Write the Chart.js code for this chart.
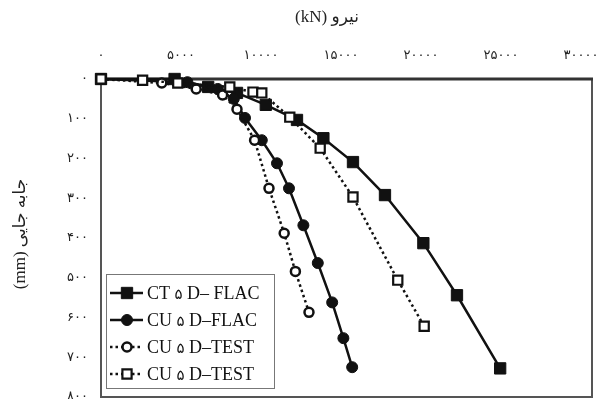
<!DOCTYPE html>
<html>
<head>
<meta charset="utf-8">
<script src="https://cdn.jsdelivr.net/npm/chart.js@4.4.0/dist/chart.umd.min.js"></script>
<style>
  html, body { margin: 0; padding: 0; background: #fff; overflow: hidden; }
  #wrap { width: 601px; height: 399px; }
</style>
</head>
<body>
<div id="wrap"><canvas id="c" width="601" height="399"></canvas></div>
<script>
// Load (kN) vs. displacement (mm) for the four pile cases
const forceCtFlac = [0, 4600, 6700, 8500, 10300, 12250, 13900, 15750, 17750, 20150, 22250, 24950];
const dispCtFlac  = [0, 0, 20, 35, 65, 103, 149, 209, 292, 413, 544, 728];

const forceCuFlac = [0, 5400, 7300, 8300, 9000, 10050, 11000, 11750, 12650, 13550, 14450, 15150, 15700];
const dispCuFlac  = [0, 8, 25, 50, 98, 154, 212, 275, 368, 463, 562, 652, 725];

const forceCuTest = [0, 3800, 5950, 7600, 8500, 9600, 10500, 11450, 12150, 13000];
const dispCuTest  = [0, 10, 25, 40, 76, 154, 275, 388, 484, 587];

const forceCtTest = [0, 2600, 4800, 8050, 9500, 10050, 11800, 13700, 15750, 18550, 20200];
const dispCtTest  = [0, 3, 10, 20, 33, 35, 96, 174, 297, 506, 622];

const seriesNames = ['CT ۵ D– FLAC', 'CU ۵ D–FLAC', 'CU ۵ D–TEST', 'CU ۵ D–TEST'];
const forceTicks = [0, 5000, 10000, 15000, 20000, 25000, 30000];
const dispTicks  = [0, 100, 200, 300, 400, 500, 600, 700, 800];

const xTitle = '(kN) نیرو';
const yTitle = '(mm) جابه جایی';

const faDigits = '۰۱۲۳۴۵۶۷۸۹';
const toFa = n => String(n).replace(/\d/g, d => faDigits[d]);
const pairs = (xs, ys) => xs.map((x, i) => ({ x, y: ys[i] }));

const ink = '#111';
const dotted = [2.5, 3];
const PLOT = { left: 101, top: 79, right: 592, bottom: 397 };

const datasets = [
  { label: seriesNames[0], data: pairs(forceCtFlac, dispCtFlac), order: 3,
    borderColor: ink, borderWidth: 2.5, pointStyle: 'rect', pointRadius: 8,
    pointBackgroundColor: ink, pointBorderColor: ink, pointBorderWidth: 1 },
  { label: seriesNames[1], data: pairs(forceCuFlac, dispCuFlac), order: 2,
    borderColor: ink, borderWidth: 2.5, pointStyle: 'circle', pointRadius: 5.5,
    pointBackgroundColor: ink, pointBorderColor: ink, pointBorderWidth: 1 },
  { label: seriesNames[2], data: pairs(forceCuTest, dispCuTest), order: 1,
    borderColor: ink, borderWidth: 2.5, borderDash: dotted, pointStyle: 'circle', pointRadius: 4.5,
    pointBackgroundColor: '#fff', pointBorderColor: ink, pointBorderWidth: 2.5 },
  { label: seriesNames[3], data: pairs(forceCtTest, dispCtTest), order: 0,
    borderColor: ink, borderWidth: 2.5, borderDash: dotted, pointStyle: 'rect', pointRadius: 6.5,
    pointBackgroundColor: '#fff', pointBorderColor: ink, pointBorderWidth: 2.2 }
].map(d => Object.assign({ showLine: true, fill: false, tension: 0, clip: false,
  borderCapStyle: 'butt', pointHoverRadius: d.pointRadius }, d));

// fix the plot box to a set rectangle once the automatic layout has run
const pinPlot = {
  id: 'pinPlot',
  afterLayout(chart) {
    const a = chart.chartArea;
    a.left = PLOT.left; a.top = PLOT.top; a.right = PLOT.right; a.bottom = PLOT.bottom;
    a.width = PLOT.right - PLOT.left; a.height = PLOT.bottom - PLOT.top;
    const { x, y } = chart.scales;
    x.left = PLOT.left; x.right = PLOT.right; x.width = a.width;
    x.top = 0; x.bottom = PLOT.top; x.height = PLOT.top;
    y.top = PLOT.top; y.bottom = PLOT.bottom; y.height = a.height;
    y.left = 0; y.right = PLOT.left; y.width = PLOT.left;
    x.configure(); y.configure();
  }
};

// frame around the plot area, drawn under the series
const framePlugin = {
  id: 'frame',
  beforeDatasetsDraw(chart) {
    const { ctx, chartArea: a } = chart;
    ctx.save();
    ctx.strokeStyle = '#555';
    ctx.lineWidth = 2;
    ctx.strokeRect(a.left, a.top, a.right - a.left, a.bottom - a.top);
    ctx.strokeStyle = '#333';
    ctx.lineWidth = 3;
    ctx.beginPath(); ctx.moveTo(a.left - 1, a.top); ctx.lineTo(a.right + 1, a.top); ctx.stroke();
    ctx.restore();
  }
};

// axis titles
const titlePlugin = {
  id: 'titles',
  afterDraw(chart) {
    const { ctx } = chart;
    ctx.save();
    ctx.fillStyle = '#222';
    ctx.font = '17px "Liberation Serif", "DejaVu Sans", serif';
    ctx.textAlign = 'center';
    ctx.textBaseline = 'middle';
    ctx.fillText(xTitle, 327, 18);
    ctx.translate(21, 234);
    ctx.rotate(-Math.PI / 2);
    ctx.fillText(yTitle, 0, 0);
    ctx.restore();
  }
};

function drawMarker(ctx, ds, x, y) {
  const r = ds.pointRadius;
  ctx.fillStyle = ds.pointBackgroundColor;
  ctx.strokeStyle = ds.pointBorderColor;
  ctx.lineWidth = ds.pointBorderWidth;
  ctx.setLineDash([]);
  ctx.beginPath();
  if (ds.pointStyle === 'rect') {
    const s = Math.SQRT1_2 * r;
    ctx.rect(x - s, y - s, 2 * s, 2 * s);
  } else {
    ctx.arc(x, y, r, 0, Math.PI * 2);
  }
  ctx.fill();
  ctx.stroke();
}

// label text: Latin runs in a serif face, Persian digits in a face that has them
function drawLabel(ctx, text, x, y) {
  const runs = text.match(/[۰-۹]+|[^۰-۹]+/g) || [];
  let cx = x;
  runs.forEach(run => {
    const fa = /[۰-۹]/.test(run);
    ctx.font = fa ? '15px "DejaVu Sans", sans-serif' : '18px "Liberation Serif", serif';
    ctx.fillText(run, cx, y + (fa ? 1 : 0));
    cx += ctx.measureText(run).width;
  });
}

// boxed legend inside the lower-left of the plot
const legendPlugin = {
  id: 'boxLegend',
  afterDatasetsDraw(chart) {
    const { ctx } = chart;
    const box = { x: 106, y: 274, w: 168, h: 114 };
    ctx.save();
    ctx.fillStyle = '#fff';
    ctx.fillRect(box.x, box.y, box.w, box.h);
    ctx.strokeStyle = '#777';
    ctx.lineWidth = 1;
    ctx.strokeRect(box.x + 0.5, box.y + 0.5, box.w, box.h);
    chart.data.datasets.forEach((ds, i) => {
      const cy = 293 + i * 27;
      ctx.strokeStyle = ds.borderColor;
      ctx.lineWidth = ds.borderWidth;
      ctx.lineCap = 'butt';
      ctx.setLineDash(ds.borderDash || []);
      ctx.beginPath(); ctx.moveTo(110, cy); ctx.lineTo(143, cy); ctx.stroke();
      drawMarker(ctx, ds, 127, cy);
      ctx.fillStyle = '#111';
      ctx.textAlign = 'left';
      ctx.textBaseline = 'middle';
      drawLabel(ctx, ds.label, 147, cy + 1);
    });
    ctx.restore();
  }
};

new Chart(document.getElementById('c'), {
  type: 'scatter',
  data: { datasets },
  options: {
    responsive: false,
    animation: false,
    events: [],
    layout: { padding: { left: 0, top: 0, right: 601 - PLOT.right, bottom: 399 - PLOT.bottom } },
    plugins: { legend: { display: false }, tooltip: { enabled: false } },
    scales: {
      x: {
        type: 'linear', position: 'top', min: 0, max: 30690,
        grid: { display: false, drawTicks: false },
        border: { display: false },
        afterBuildTicks: s => { s.ticks = forceTicks.map(v => ({ value: v })); },
        afterFit: s => { s.height = PLOT.top; s.paddingLeft = 0; s.paddingRight = 0; },
        ticks: { padding: 16, color: '#222', maxRotation: 0, autoSkip: false,
          font: { family: '"DejaVu Sans", sans-serif', size: 13 },
          callback: v => toFa(v) }
      },
      y: {
        type: 'linear', position: 'left', reverse: true, min: 0, max: 800,
        grid: { display: false, drawTicks: false },
        border: { display: false },
        afterBuildTicks: s => { s.ticks = dispTicks.map(v => ({ value: v })); },
        afterFit: s => { s.width = PLOT.left; s.paddingTop = 0; s.paddingBottom = 0; },
        ticks: { padding: 13, color: '#222', autoSkip: false,
          font: { family: '"DejaVu Sans", sans-serif', size: 13 },
          callback: v => toFa(v) }
      }
    }
  },
  plugins: [pinPlot, framePlugin, legendPlugin, titlePlugin]
});
</script>
</body>
</html>
